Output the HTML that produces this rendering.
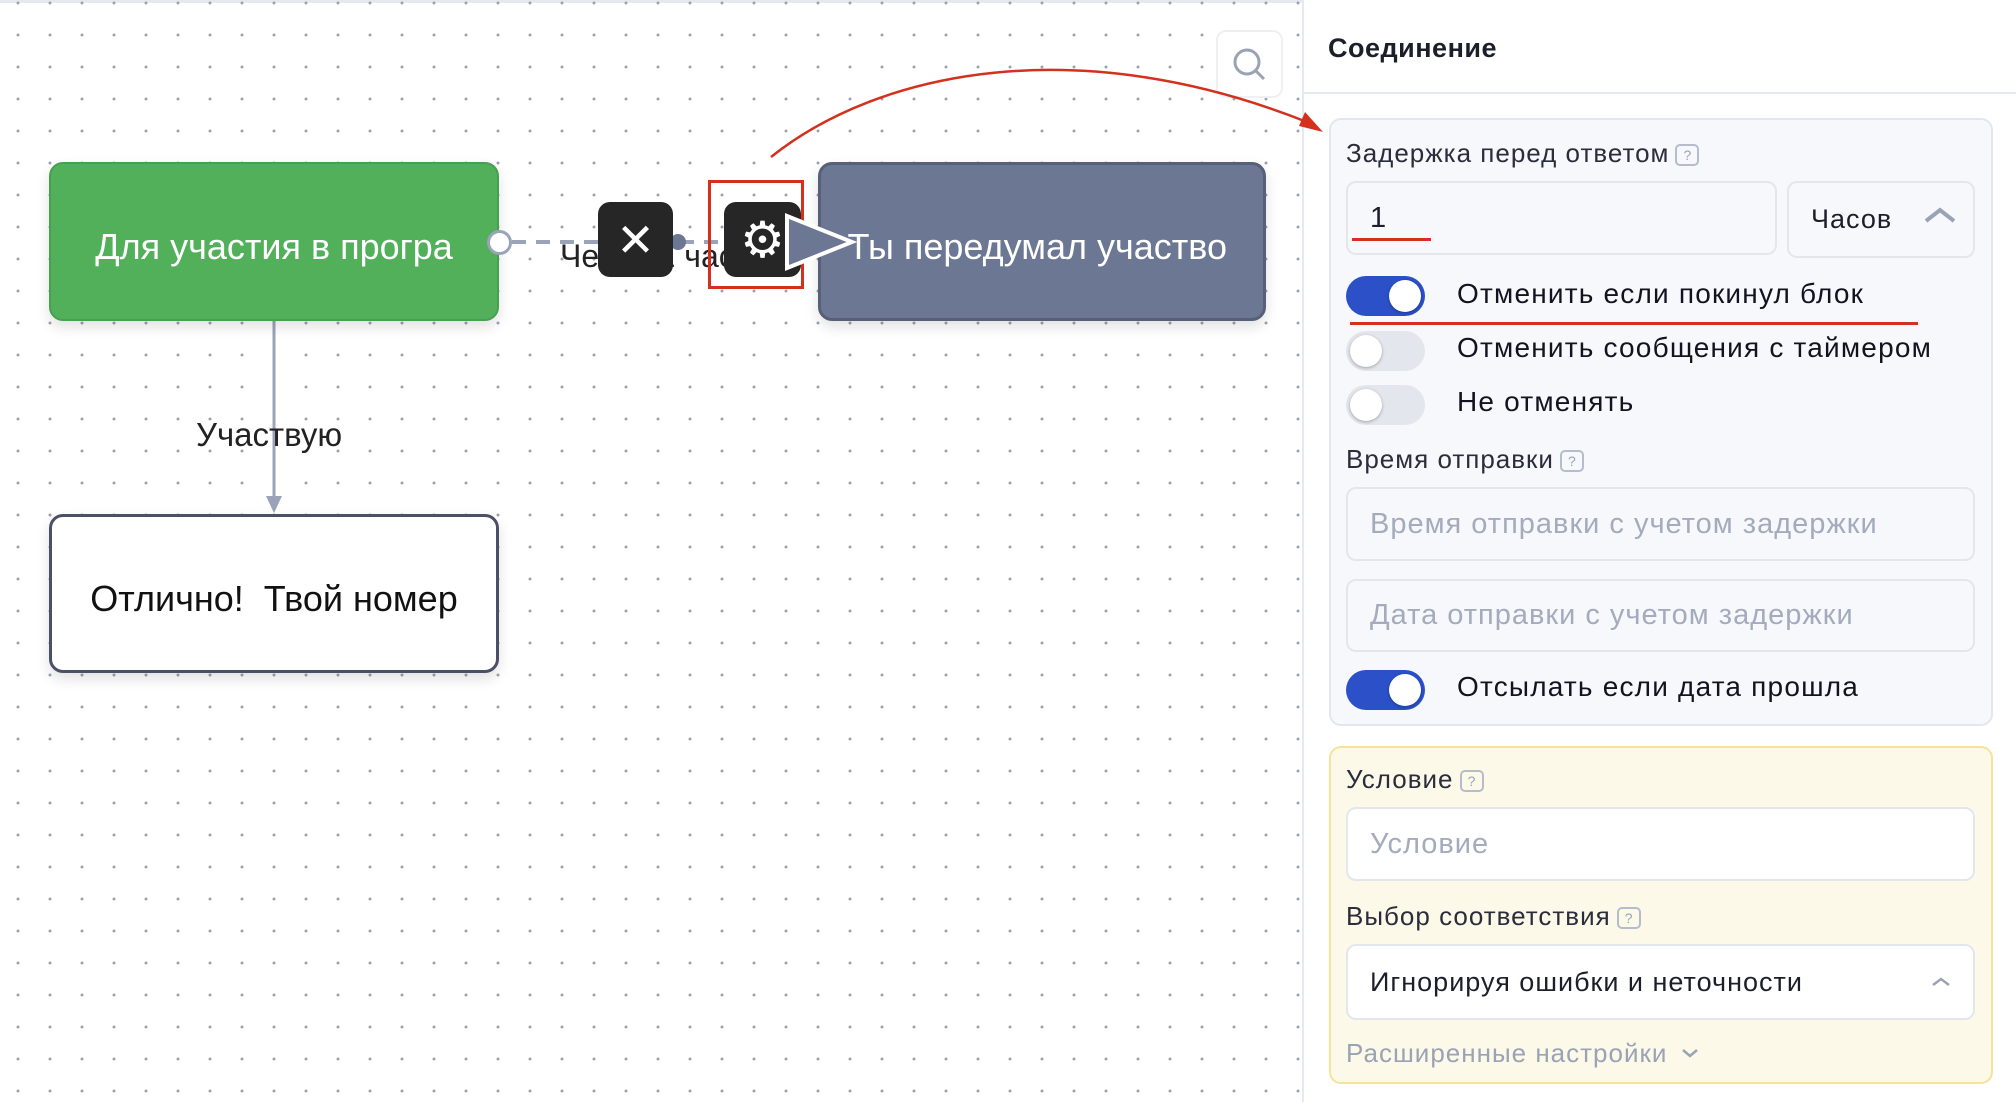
<!DOCTYPE html>
<html><head><meta charset="utf-8"><style>
*{box-sizing:border-box;margin:0;padding:0}
body{width:2016px;height:1102px;overflow:hidden;background:#fff;font-family:"Liberation Sans","DejaVu Sans",sans-serif;position:relative}
.grid{position:absolute;left:0;top:0;width:1302px;height:1102px;background-image:radial-gradient(circle,#9aa0ad 1.3px,transparent 1.6px);background-size:32px 32px;background-position:2px 19px}
.abs{position:absolute}
.node{position:absolute;border-radius:14px;display:flex;align-items:center;justify-content:center;font-size:36px;padding-top:10px;box-shadow:0 6px 14px rgba(0,0,0,.12)}
.panel{position:absolute;left:1302px;top:0;width:714px;height:1102px;background:#fff;border-left:2px solid #e6e9ef}
.lbl{position:absolute;font-size:26px;color:#2a2e3c;letter-spacing:1px}
.q{display:inline-block;width:24px;height:22px;border:2px solid #b5bccb;border-radius:5px;font-size:14px;color:#9aa3b5;text-align:center;line-height:18px;vertical-align:middle;margin-left:6px;letter-spacing:0}
.inp{position:absolute;border:2px solid #e3e6ec;border-radius:10px;font-size:29px;letter-spacing:1px;display:flex;align-items:center;padding-left:22px}
.tg{position:absolute;width:79px;height:40px;border-radius:20px}
.tg i{position:absolute;top:4px;width:32px;height:32px;border-radius:50%;background:#fff;box-shadow:0 1px 3px rgba(0,0,0,.3)}
.tl{position:absolute;left:1457px;font-size:28px;color:#111420;letter-spacing:1.2px}
</style></head><body>
<div class="abs" style="left:0;top:0;width:2016px;height:3px;background:#e6e9ef"></div>
<div class="grid"></div>

<svg class="abs" style="left:0;top:0" width="1340" height="700">
<line x1="274" y1="321" x2="274" y2="500" stroke="#9aa3b7" stroke-width="3"/>
<polygon points="266,496 282,496 274,513" fill="#9aa3b7"/>
<line x1="512" y1="242" x2="790" y2="242" stroke="#9aa3b7" stroke-width="4" stroke-dasharray="14,10"/>
<circle cx="678" cy="242" r="8" fill="#6b7793"/>
</svg>

<div class="abs" style="left:1216px;top:30px;width:67px;height:68px;border:2px solid #eef0f4;border-radius:10px;background:#fff"></div>
<svg class="abs" style="left:1230px;top:45px" width="40" height="40"><circle cx="17" cy="17" r="12" fill="none" stroke="#9aa3b5" stroke-width="3"/><line x1="26" y1="26" x2="34" y2="34" stroke="#9aa3b5" stroke-width="3"/></svg>

<div class="node" style="left:49px;top:162px;width:450px;height:159px;background:#52b05a;border:2px solid #47a04f;color:#fff">Для участия в програ</div>
<div class="node" style="left:818px;top:162px;width:448px;height:159px;background:#6b7793;border:3px solid #566078;color:#fff;justify-content:flex-end;padding-right:36px">Ты передумал участво</div>
<div class="node" style="left:49px;top:514px;width:450px;height:159px;background:#fff;border:3px solid #4a5068;color:#111">Отлично!&nbsp; Твой номер</div>
<div class="abs" style="left:487px;top:230px;width:25px;height:25px;border-radius:50%;background:#fff;border:3px solid #9aa3b7"></div>
<div class="abs" style="left:560px;top:238px;font-size:32px;color:#222">Через 1 час</div>
<div class="abs" style="left:196px;top:416px;font-size:33px;color:#222">Участвую</div>

<div class="abs" style="left:598px;top:202px;width:75px;height:75px;background:#262626;border-radius:12px;color:#fff;font-size:46px;font-weight:bold;display:flex;align-items:center;justify-content:center">✕</div>
<div class="abs" style="left:724px;top:202px;width:77px;height:75px;background:#262626;border-radius:12px;color:#fff;font-size:50px;display:flex;align-items:center;justify-content:center">⚙</div>
<div class="abs" style="left:708px;top:180px;width:96px;height:109px;border:3px solid #d4301e"></div>
<svg class="abs" style="left:780px;top:212px" width="80" height="60"><polygon points="7,4 72,30 7,56" fill="#6b7793" stroke="#fff" stroke-width="4"/></svg>

<div class="panel"></div>
<div class="abs" style="left:1328px;top:33px;font-size:27px;font-weight:bold;color:#1c1f2a;letter-spacing:.5px">Соединение</div>
<div class="abs" style="left:1304px;top:92px;width:712px;height:2px;background:#e6e9ef"></div>

<div class="abs" style="left:1329px;top:118px;width:664px;height:608px;background:#f7f8fb;border:2px solid #e3e6ec;border-radius:12px"></div>
<div class="lbl" style="left:1346px;top:138px">Задержка перед ответом<span class="q">?</span></div>
<div class="inp" style="left:1346px;top:181px;width:431px;height:74px;color:#1c1f2a">1</div>
<div class="abs" style="left:1352px;top:238px;width:79px;height:3px;background:#d4301e"></div>
<div class="inp" style="left:1787px;top:181px;width:188px;height:77px;color:#1c1f2a;font-size:27px">Часов</div>
<svg class="abs" style="left:1922px;top:204px" width="36" height="22"><polyline points="4,17 18,6 32,17" fill="none" stroke="#9aa3b5" stroke-width="4"/></svg>

<div class="tg" style="left:1346px;top:276px;background:#2b50c8"><i style="left:43px"></i></div>
<div class="tl" style="top:278px">Отменить если покинул блок</div>
<div class="abs" style="left:1350px;top:322px;width:568px;height:3px;background:#d4301e"></div>
<div class="tg" style="left:1346px;top:331px;background:#e3e6ec"><i style="left:4px"></i></div>
<div class="tl" style="top:332px">Отменить сообщения с таймером</div>
<div class="tg" style="left:1346px;top:385px;background:#e3e6ec"><i style="left:4px"></i></div>
<div class="tl" style="top:386px">Не отменять</div>

<div class="lbl" style="left:1346px;top:444px">Время отправки<span class="q">?</span></div>
<div class="inp" style="left:1346px;top:487px;width:629px;height:74px;color:#a3abbd">Время отправки с учетом задержки</div>
<div class="inp" style="left:1346px;top:579px;width:629px;height:73px;color:#a3abbd">Дата отправки с учетом задержки</div>
<div class="tg" style="left:1346px;top:670px;background:#2b50c8"><i style="left:43px"></i></div>
<div class="tl" style="top:671px">Отсылать если дата прошла</div>

<div class="abs" style="left:1329px;top:746px;width:664px;height:338px;background:#fdf9e9;border:2px solid #f5e39a;border-radius:12px"></div>
<div class="lbl" style="left:1346px;top:764px">Условие<span class="q">?</span></div>
<div class="inp" style="left:1346px;top:807px;width:629px;height:74px;background:#fff;color:#a3abbd">Условие</div>
<div class="lbl" style="left:1346px;top:901px">Выбор соответствия<span class="q">?</span></div>
<div class="inp" style="left:1346px;top:944px;width:629px;height:76px;background:#fff;color:#1c1f2a;font-size:27px">Игнорируя ошибки и неточности</div>
<svg class="abs" style="left:1930px;top:974px" width="22" height="14"><polyline points="3,11 11,5 19,11" fill="none" stroke="#9aa3b5" stroke-width="2.5"/></svg>
<div class="lbl" style="left:1346px;top:1038px;color:#9aa3b5">Расширенные настройки</div>
<svg class="abs" style="left:1680px;top:1046px" width="20" height="14"><polyline points="3,4 10,10 17,4" fill="none" stroke="#9aa3b5" stroke-width="2.5"/></svg>

<svg class="abs" style="left:0;top:0" width="1340" height="300">
<path d="M771,157 C880,70 1080,30 1312,124" fill="none" stroke="#d4301e" stroke-width="2.5"/>
<polygon points="1323,132 1305,112 1299,126" fill="#d4301e"/>
</svg>
</body></html>
